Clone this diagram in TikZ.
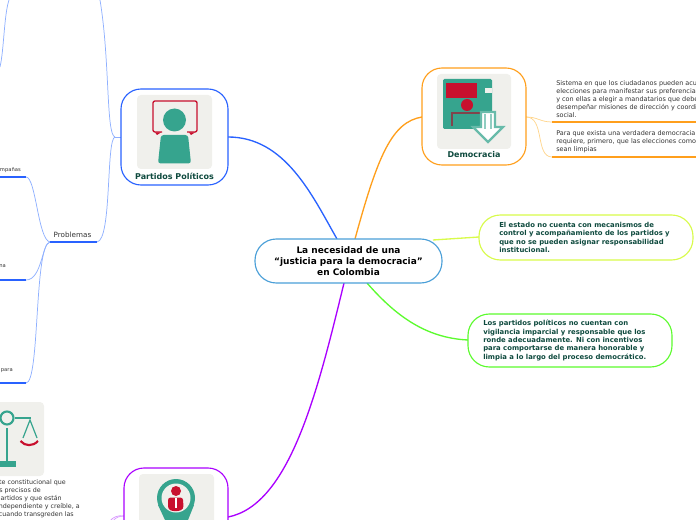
\documentclass[tikz,border=0pt]{standalone}
\usepackage{fontspec}
\setmainfont{DejaVu Sans}
\definecolor{tealc}{HTML}{36A48E}
\definecolor{redc}{HTML}{C8102E}
\definecolor{bgc}{HTML}{F0F0EC}
\definecolor{inkc}{HTML}{0E4A3E}
\definecolor{greyc}{HTML}{333333}
\definecolor{bluec}{HTML}{2962FF}
\definecolor{lbluec}{HTML}{8FB0FF}
\definecolor{orangec}{HTML}{FF9F1C}
\definecolor{lorangec}{HTML}{FFD58C}
\definecolor{purplec}{HTML}{AA00FF}
\definecolor{lpurplec}{HTML}{D99CFF}
\definecolor{yellowc}{HTML}{D8FB4A}
\definecolor{greenc}{HTML}{5CFB2E}
\definecolor{rootc}{HTML}{4A9FD8}
\tikzset{
  x=0.75pt,y=-0.75pt,
  boxn/.style={rectangle,fill=white,line width=0.85pt,rounded corners=15pt,inner sep=0pt},
  conn/.style={line width=1pt},
  lconn/.style={line width=0.55pt},
  bar/.style={line width=1.1pt},
  boldtxt/.style={font=\fontsize{5.15pt}{6.3pt}\selectfont\bfseries,text=inkc,align=left,inner sep=0pt,anchor=west},
  smalltxt/.style={font=\fontsize{4.85pt}{6pt}\selectfont,text=greyc,align=left,inner sep=0pt,anchor=west},
  endtxt/.style={font=\fontsize{4.75pt}{6pt}\selectfont,text=greyc,inner sep=0pt,anchor=base east},
  tiny/.style={font=\fontsize{3.9pt}{5pt}\selectfont,text=greyc,inner sep=0pt,anchor=base east},
  title/.style={font=\fontsize{6pt}{7pt}\selectfont\bfseries,text=inkc,inner sep=0pt},
  iconbg/.style={fill=bgc,draw=none,rounded corners=3pt},
}
\begin{document}
\begin{tikzpicture}
\useasboundingbox (0,0) rectangle (696,520);
\clip (0,0) rectangle (696,520);
% anchors
\coordinate (rb) at (337,239);
\coordinate (ro) at (355,239);
\coordinate (ry) at (433,240);
\coordinate (rg) at (367,283);
\coordinate (rp) at (344,283);
\coordinate (pr) at (228,137);
\coordinate (pl) at (121,137);
\coordinate (pf) at (115,137);
\coordinate (dl) at (422,117);
\coordinate (dr) at (526,117);
\coordinate (yl) at (479,237);
\coordinate (gl) at (468,340);
\coordinate (vr) at (228,517);
\coordinate (vl) at (124,516);
\coordinate (probR) at (97,242);
\coordinate (probL) at (50,242);
\coordinate (a1) at (26,177);
\coordinate (a0) at (0,177);
\coordinate (b1) at (26,280);
\coordinate (b0) at (0,280);
\coordinate (c1) at (26,383);
\coordinate (c0) at (0,383);
\coordinate (top1) at (100,0);
\coordinate (s1) at (552,122);
\coordinate (s1e) at (696,122);
\coordinate (s2) at (552,157);
\coordinate (s2e) at (696,157);
\coordinate (t0) at (9,0);
\coordinate (t1) at (0,67);
% main connectors
\draw[conn,bluec] (pr) .. controls (285,137) and (312,195) .. (rb);
\draw[conn,orangec] (dl) .. controls (392,122) and (378,155) .. (ro);
\draw[conn,yellowc] (ry) -- (yl);
\draw[conn,greenc] (rg) .. controls (395,315) and (425,338) .. (gl);
\draw[conn,purplec] (vr) .. controls (290,505) and (318,390) .. (rp);
% light connectors
\draw[lconn,lorangec] (dr) .. controls (538,117) and (540,122) .. (s1);
\draw[lconn,lorangec] (dr) .. controls (545,117) and (535,157) .. (s2);
\draw[lconn,lbluec] (pl) -- (pf);
\draw[lconn,lbluec] (pf) .. controls (106,135) and (110,60) .. (top1);
\draw[lconn,lbluec] (pf) .. controls (106,139) and (112,240) .. (probR);
\draw[lconn,lbluec] (probL) .. controls (38,240) and (36,177) .. (a1);
\draw[lconn,lbluec] (probL) .. controls (42,243) and (42,280) .. (b1);
\draw[lconn,lbluec] (probL) .. controls (34,244) and (40,383) .. (c1);
\draw[lconn,lbluec] (t0) .. controls (4,15) and (4,50) .. (t1);
\draw[lconn,lpurplec] (vl) .. controls (120,516) and (116,517) .. (113,521);
\draw[lconn,lpurplec] (vl) .. controls (118,515) and (113,517) .. (110,521);
% bars
\draw[bar,orangec] (s1) -- (s1e);
\draw[bar,orangec] (s2) -- (s2e);
\draw[bar,bluec] (probL) -- (probR);
\draw[bar,bluec] (a0) -- (a1);
\draw[bar,bluec] (b0) -- (b1);
\draw[bar,bluec] (c0) -- (c1);
% boxes
\node[boxn,draw=rootc,minimum width=140.25pt,minimum height=33pt,rounded corners=16pt,align=center,font=\fontsize{6.75pt}{8.25pt}\selectfont\bfseries] (root) at (348.5,261) {La necesidad de una\\“justicia para la democracia”\\en Colombia};
\node[boxn,draw=bluec,minimum width=80.25pt,minimum height=72pt] (partidos) at (174.5,137) {};
\node[boxn,draw=orangec,minimum width=78pt,minimum height=72.75pt] (democracia) at (474,116.5) {};
\node[boxn,draw=purplec,minimum width=78pt,minimum height=72.75pt] (vigil) at (176,516.5) {};
\node[boxn,draw=yellowc,minimum width=160.5pt,minimum height=33.75pt,rounded corners=16pt] (yellowb) at (586,237.5) {};
\node[boxn,draw=greenc,minimum width=153pt,minimum height=39.75pt,rounded corners=16pt] (greenb) at (570,340.5) {};
\node[boldtxt] (ytxt) at (499,237.5) {El estado no cuenta con mecanismos de\\control y acompañamiento de los partidos y\\que no se pueden asignar responsabilidad\\institucional.};
\node[boldtxt] (gtxt) at (483,340.5) {Los partidos políticos no cuentan con\\vigilancia imparcial y responsable que los\\ronde adecuadamente. Ni con incentivos\\para comportarse de manera honorable y\\limpia a lo largo del proceso democrático.};
% Partidos icon
\fill[iconbg] (137,95) rectangle (212,169);
\draw[redc,line width=1pt,rounded corners=1.5pt] (162,132) -- (153,132) -- (153,101) -- (197,101) -- (197,132) -- (187,132);
\fill[redc] (155,132.5) -- (161,132.5) -- (157,135) -- cycle;
\fill[redc] (189,132.5) -- (195,132.5) -- (191,135) -- cycle;
\fill[tealc] (174.5,120) circle[radius=11.5];
\fill[tealc,rounded corners=2pt] (161,135) -- (188,135) -- (191,163.5) -- (158,163.5) -- cycle;
\node[title] (ptitle) at (174.5,176) {Partidos Políticos};
% Democracia icon
\fill[iconbg] (437,74) rectangle (511,149);
\fill[tealc,rounded corners=1pt] (443,79) rectangle (492,129);
\fill[bgc] (485,88) rectangle (492,93);
\fill[redc] (446,83) rectangle (477,98);
\fill[redc] (467,105) circle[radius=6];
\draw[redc!60!tealc!90!black,line width=0.9pt] (452,126) -- (452,113) -- (481,113);
\draw[tealc!75!white,line width=1.6pt,fill=white,miter limit=4] (481,112) -- (495,112) -- (495,127) -- (503,127) -- (488,142) -- (473,127) -- (481,127) -- cycle;
\fill[tealc!55!white] (484,114) rectangle (492,129);
\fill[white] (486,114) rectangle (490,130);
\node[title] (dtitle) at (474,155) {Democracia};
% Vigilancia icon
\fill[iconbg] (139,474) rectangle (214,530);
\fill[tealc] (165,520) -- (158,505) -- (194,505) -- (188,520) -- cycle;
\fill[tealc] (176,498) circle[radius=19];
\fill[bgc] (176,498) circle[radius=14.5];
\fill[redc] (176,491) circle[radius=5];
\fill[redc,rounded corners=2pt] (168,497.5) -- (183,497.5) -- (183.5,509) .. controls (178,511.5) and (173,511.5) .. (168,509) -- cycle;
\fill[white] (175.2,498) rectangle (176.8,508);
% Scale icon
\fill[iconbg] (-10,402) rectangle (44,476);
\draw[tealc,line width=1.6pt] (7,418) circle[radius=6.5];
\draw[tealc,line width=1.6pt] (15,418) -- (31,418);
\draw[tealc,line width=1.6pt] (7,428) -- (7,462);
\fill[tealc] (-1,461) rectangle (16,467);
\draw[tealc,line width=0.9pt] (23,438) -- (30,420) -- (37,438);
\draw[redc,line width=1.6pt] (20.5,441) .. controls (25,446.5) and (33,446.5) .. (38,441);
% labels
\node[smalltxt] (d1) at (556,99) {Sistema en que los ciudadanos pueden acudir a\\elecciones para manifestar sus preferencias políticas\\y con ellas a elegir a mandatarios que deberán\\desempeñar misiones de dirección y coordinación\\social.};
\node[smalltxt] (d2) at (556,141.5) {Para que exista una verdadera democracia se\\requiere, primero, que las elecciones como tales\\sean limpias};
\node[font=\fontsize{5.4pt}{6pt}\selectfont,text=greyc,inner sep=0pt,anchor=base] (prob) at (72.5,237.5) {Problemas};
\node[tiny] (ta) at (21,172) {mpañas};
\node[tiny] (tb) at (6,268) {na};
\node[tiny] (tc) at (13,371) {para};
\node[endtxt] (l1) at (66,484) {te constitucional que};
\node[endtxt] (l2) at (41,492) {s precisos de};
\node[endtxt] (l3) at (62,500) {artidos y que están};
\node[endtxt] (l4) at (80,508) {ndependiente y creíble, a};
\node[endtxt] (l5) at (74,516) {cuando transgreden las};
\end{tikzpicture}
\end{document}
